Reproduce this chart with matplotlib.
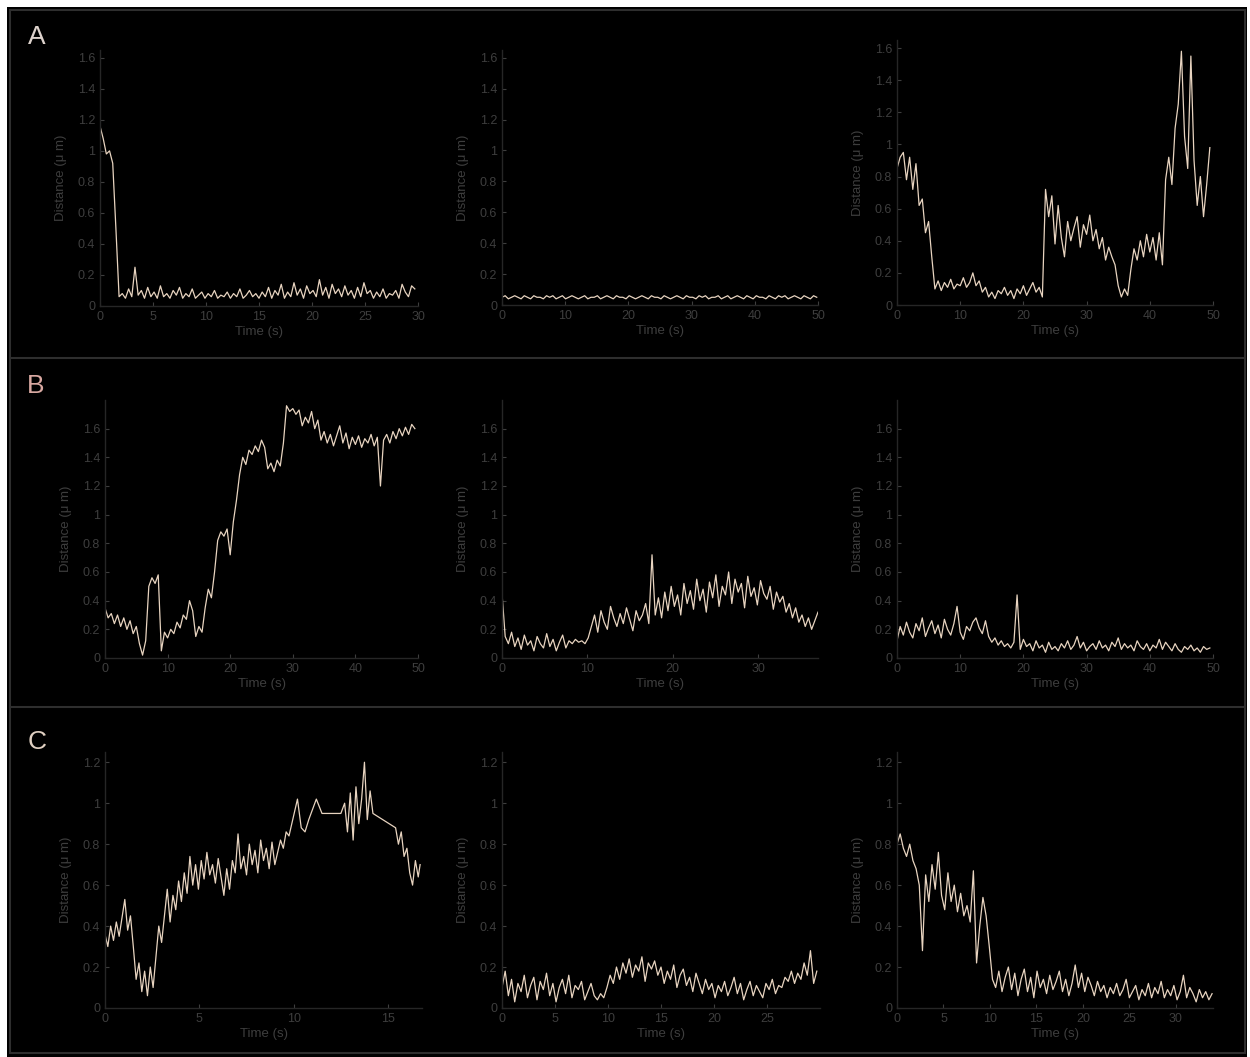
import numpy as np
import matplotlib
matplotlib.use('Agg')
import matplotlib.pyplot as plt
from matplotlib.patches import Rectangle
from matplotlib.lines import Line2D
from matplotlib.ticker import FormatStrFormatter

plt.rc('font', family=['Liberation Sans', 'DejaVu Sans'])

# ---- data (distance in um vs time in s) ----
a1 = [1.16,1.08,0.98,1.00,0.92,0.50,0.06,0.08,0.05,0.11,
      0.06,0.25,0.07,0.10,0.05,0.12,0.06,0.09,0.05,0.13,
      0.06,0.08,0.05,0.10,0.07,0.12,0.05,0.08,0.06,0.11,
      0.05,0.07,0.09,0.05,0.08,0.06,0.10,0.05,0.07,0.06,
      0.09,0.05,0.08,0.06,0.11,0.05,0.07,0.10,0.06,0.08,
      0.05,0.09,0.06,0.12,0.05,0.10,0.07,0.14,0.05,0.09,
      0.06,0.15,0.07,0.11,0.05,0.13,0.08,0.10,0.06,0.17,
      0.07,0.12,0.05,0.14,0.08,0.11,0.06,0.13,0.07,0.10,
      0.05,0.12,0.06,0.15,0.08,0.10,0.05,0.09,0.06,0.11,
      0.05,0.08,0.07,0.10,0.05,0.14,0.09,0.06,0.13,0.11]
a1_end = 29.7

a2 = [0.05,0.06,0.04,0.05,0.06,0.05,0.04,0.06,0.05,0.04,
      0.06,0.05,0.05,0.04,0.06,0.05,0.06,0.04,0.05,0.06,
      0.04,0.05,0.06,0.05,0.04,0.05,0.06,0.04,0.05,0.05,
      0.06,0.04,0.05,0.06,0.05,0.04,0.06,0.05,0.05,0.04,
      0.06,0.05,0.04,0.05,0.06,0.05,0.04,0.06,0.05,0.05,
      0.04,0.06,0.05,0.04,0.05,0.06,0.05,0.04,0.06,0.05,
      0.05,0.04,0.06,0.05,0.06,0.04,0.05,0.05,0.06,0.04,
      0.05,0.06,0.04,0.05,0.06,0.05,0.04,0.06,0.05,0.04,
      0.06,0.05,0.05,0.04,0.06,0.05,0.04,0.06,0.05,0.06,
      0.04,0.05,0.06,0.05,0.04,0.06,0.05,0.04,0.06,0.05]
a2_end = 49.8

a3 = [0.85,0.92,0.95,0.78,0.92,0.72,0.88,0.62,0.66,0.45,
      0.52,0.30,0.10,0.15,0.09,0.14,0.11,0.16,0.10,0.13,
      0.12,0.17,0.11,0.14,0.20,0.12,0.15,0.08,0.11,0.05,
      0.08,0.04,0.09,0.07,0.11,0.06,0.09,0.04,0.10,0.07,
      0.12,0.06,0.10,0.14,0.08,0.11,0.05,0.72,0.55,0.68,
      0.38,0.62,0.42,0.30,0.52,0.40,0.48,0.55,0.36,0.50,
      0.44,0.56,0.40,0.47,0.35,0.42,0.28,0.36,0.30,0.25,
      0.12,0.05,0.10,0.06,0.22,0.35,0.28,0.40,0.30,0.44,
      0.33,0.42,0.28,0.45,0.25,0.78,0.92,0.75,1.10,1.25,
      1.58,1.05,0.85,1.55,0.90,0.62,0.80,0.55,0.75,0.98]
a3_end = 49.5

b1 = [0.35,0.28,0.31,0.24,0.30,0.22,0.28,0.20,0.26,0.17,
      0.22,0.10,0.02,0.12,0.50,0.56,0.52,0.58,0.05,0.18,
      0.14,0.20,0.17,0.25,0.21,0.30,0.27,0.40,0.33,0.15,
      0.22,0.18,0.35,0.48,0.42,0.60,0.82,0.88,0.85,0.90,
      0.72,0.95,1.10,1.28,1.40,1.35,1.45,1.42,1.48,1.44,
      1.52,1.47,1.32,1.36,1.30,1.38,1.34,1.50,1.76,1.72,
      1.74,1.70,1.73,1.62,1.68,1.64,1.72,1.60,1.66,1.52,
      1.58,1.50,1.56,1.48,1.55,1.62,1.50,1.57,1.46,1.54,
      1.49,1.55,1.47,1.53,1.50,1.56,1.48,1.54,1.20,1.52,
      1.56,1.50,1.58,1.53,1.60,1.55,1.61,1.56,1.63,1.60]
b1_end = 49.5

b2 = [0.45,0.15,0.10,0.18,0.08,0.14,0.06,0.16,0.09,0.12,
      0.05,0.15,0.10,0.07,0.17,0.08,0.13,0.05,0.11,0.16,
      0.07,0.12,0.10,0.13,0.11,0.12,0.10,0.14,0.22,0.30,
      0.18,0.33,0.25,0.20,0.36,0.28,0.22,0.31,0.24,0.35,
      0.27,0.19,0.33,0.26,0.30,0.38,0.24,0.72,0.30,0.42,
      0.28,0.46,0.33,0.50,0.36,0.44,0.30,0.52,0.38,0.47,
      0.34,0.55,0.40,0.48,0.32,0.53,0.42,0.58,0.36,0.50,
      0.44,0.60,0.38,0.55,0.46,0.52,0.35,0.57,0.43,0.49,
      0.37,0.54,0.45,0.41,0.50,0.34,0.46,0.39,0.43,0.32,
      0.38,0.28,0.35,0.25,0.30,0.22,0.28,0.20,0.26,0.32]
b2_end = 37.0

b3 = [0.12,0.22,0.16,0.25,0.18,0.14,0.24,0.19,0.28,0.15,
      0.21,0.26,0.17,0.23,0.14,0.27,0.20,0.16,0.24,0.36,
      0.18,0.13,0.22,0.19,0.25,0.28,0.21,0.17,0.26,0.15,
      0.11,0.14,0.09,0.12,0.08,0.10,0.07,0.11,0.44,0.06,
      0.13,0.08,0.10,0.05,0.12,0.07,0.09,0.04,0.11,0.06,
      0.08,0.05,0.10,0.07,0.12,0.06,0.09,0.15,0.07,0.11,
      0.05,0.08,0.10,0.06,0.12,0.07,0.09,0.05,0.11,0.08,
      0.14,0.06,0.10,0.07,0.09,0.05,0.12,0.08,0.06,0.10,
      0.05,0.09,0.07,0.13,0.06,0.11,0.08,0.05,0.10,0.06,
      0.04,0.08,0.06,0.09,0.05,0.07,0.04,0.08,0.06,0.07]
b3_end = 49.5

c1_t = [0.0,0.15,0.3,0.45,0.6,0.75,0.9,1.05,1.2,1.35,1.5,1.65,1.8,1.95,2.1,2.25,2.4,2.55,2.7,2.85,
        3.0,3.15,3.3,3.45,3.6,3.75,3.9,4.05,4.2,4.35,4.5,4.65,4.8,4.95,5.1,5.25,5.4,5.55,5.7,5.85,
        6.0,6.15,6.3,6.45,6.6,6.75,6.9,7.05,7.2,7.35,7.5,7.65,7.8,7.95,8.1,8.25,8.4,8.55,8.7,8.85,
        9.0,9.15,9.3,9.45,9.6,9.75,9.9,10.05,10.2,10.4,10.6,10.8,11.0,11.2,11.5,12.5,12.7,12.85,13.0,13.15,
        13.3,13.45,13.6,13.75,13.9,14.05,14.2,15.4,15.55,15.7,15.85,16.0,16.15,16.3,16.45,16.6,16.7]
c1 = [0.36,0.30,0.40,0.33,0.42,0.35,0.44,0.53,0.38,0.45,0.30,0.14,0.22,0.08,0.18,0.06,0.20,0.10,0.25,0.40,
      0.32,0.45,0.58,0.42,0.55,0.48,0.62,0.52,0.66,0.56,0.74,0.60,0.70,0.58,0.72,0.63,0.76,0.65,0.70,0.61,
      0.73,0.64,0.55,0.68,0.58,0.72,0.66,0.85,0.68,0.74,0.65,0.80,0.70,0.77,0.66,0.82,0.72,0.78,0.68,0.81,
      0.70,0.76,0.82,0.78,0.86,0.84,0.90,0.96,1.02,0.88,0.86,0.92,0.97,1.02,0.95,0.95,1.00,0.86,1.05,0.82,
      1.08,0.90,1.02,1.20,0.92,1.06,0.95,0.88,0.80,0.86,0.74,0.78,0.66,0.60,0.72,0.64,0.70]

c2 = [0.10,0.18,0.06,0.14,0.03,0.12,0.08,0.16,0.05,0.11,
      0.15,0.04,0.13,0.09,0.17,0.06,0.12,0.03,0.10,0.14,
      0.07,0.16,0.05,0.11,0.09,0.13,0.04,0.08,0.12,0.06,
      0.04,0.07,0.05,0.10,0.16,0.12,0.20,0.14,0.22,0.17,
      0.24,0.15,0.21,0.18,0.25,0.13,0.22,0.19,0.23,0.16,
      0.20,0.12,0.18,0.14,0.21,0.10,0.16,0.19,0.11,0.15,
      0.08,0.17,0.12,0.07,0.14,0.09,0.12,0.05,0.11,0.08,
      0.13,0.06,0.10,0.15,0.07,0.12,0.04,0.09,0.13,0.06,
      0.11,0.08,0.05,0.12,0.09,0.14,0.07,0.11,0.10,0.15,
      0.13,0.18,0.12,0.17,0.14,0.22,0.16,0.28,0.12,0.18]
c2_end = 29.7

c3 = [0.80,0.85,0.78,0.74,0.80,0.72,0.68,0.60,0.28,0.65,
      0.52,0.70,0.58,0.76,0.55,0.48,0.66,0.52,0.60,0.47,
      0.56,0.45,0.50,0.42,0.67,0.22,0.40,0.54,0.45,0.30,
      0.14,0.10,0.18,0.08,0.15,0.20,0.09,0.17,0.06,0.14,
      0.19,0.08,0.15,0.05,0.18,0.10,0.14,0.07,0.16,0.09,
      0.13,0.18,0.08,0.14,0.06,0.12,0.21,0.10,0.17,0.08,
      0.15,0.11,0.06,0.13,0.08,0.11,0.05,0.10,0.07,0.12,
      0.06,0.09,0.14,0.05,0.08,0.11,0.04,0.09,0.06,0.12,
      0.05,0.10,0.07,0.13,0.05,0.09,0.06,0.11,0.04,0.08,
      0.16,0.05,0.10,0.07,0.03,0.09,0.05,0.08,0.04,0.07]
c3_end = 33.9

# ---- layout ----
W, H = 1250, 1057
fig = plt.figure(figsize=(W / 100, H / 100), dpi=100, facecolor='white')

BG = '#000000'
FRAME = '#2e2e2e'
DIM = '#3e3e3e'
TRACE = '#e8d4c0'

fig.patches.append(Rectangle((7 / W, 0), 1240 / W, 1050 / H, transform=fig.transFigure,
                             facecolor=BG, edgecolor='none', zorder=-10))
fig.patches.append(Rectangle((10 / W, 4 / H), 1235 / W, 1043 / H, transform=fig.transFigure,
                             facecolor='none', edgecolor=FRAME, lw=1.5, zorder=-5))
for ysep in (358, 707):
    fig.add_artist(Line2D([10 / W, 1245 / W], [1 - ysep / H, 1 - ysep / H], color=FRAME, lw=1.5))


def make_axes(left, right, zero, top):
    return fig.add_axes([left / W, 1 - zero / H, (right - left) / W, (zero - top) / H])


def style(ax, xlim, xticks, ylim, yticks):
    ax.set_facecolor(BG)
    ax.set_xlim(*xlim)
    ax.set_ylim(*ylim)
    ax.set_xticks(xticks)
    ax.set_yticks(yticks)
    ax.yaxis.set_major_formatter(FormatStrFormatter('%g'))
    for s in ('top', 'right'):
        ax.spines[s].set_visible(False)
    for s in ('left', 'bottom'):
        ax.spines[s].set_color('#262626')
        ax.spines[s].set_linewidth(1.0)
    ax.tick_params(colors=DIM, labelsize=9, length=3, direction='in', labelcolor=DIM)
    ax.set_xlabel('Time (s)', color=DIM, fontsize=9.5, labelpad=2)
    ax.set_ylabel('Distance (\u03bc m)', color=DIM, fontsize=9.5, labelpad=8)


yA = np.arange(0, 1.61, 0.2)
yC = np.arange(0, 1.21, 0.2)

panels = [
    # (values, times, rect, xlim, xticks, ylim, yticks)
    (a1, np.linspace(0, a1_end, len(a1)), (100, 418, 306, 50), (0, 30), np.arange(0, 31, 5), (0, 1.65), yA),
    (a2, np.linspace(0, a2_end, len(a2)), (502, 818, 305, 50), (0, 50), np.arange(0, 51, 10), (0, 1.65), yA),
    (a3, np.linspace(0, a3_end, len(a3)), (897, 1213, 305, 40), (0, 50), np.arange(0, 51, 10), (0, 1.65), yA),
    (b1, np.linspace(0, b1_end, len(b1)), (105, 418, 658, 400), (0, 50), np.arange(0, 51, 10), (0, 1.8), yA),
    (b2, np.linspace(0, b2_end, len(b2)), (502, 818, 658, 400), (0, 37), np.arange(0, 31, 10), (0, 1.8), yA),
    (b3, np.linspace(0, b3_end, len(b3)), (897, 1213, 658, 400), (0, 50), np.arange(0, 51, 10), (0, 1.8), yA),
    (c1, np.array(c1_t), (105, 422, 1008, 752), (0, 16.8), np.arange(0, 16, 5), (0, 1.25), yC),
    (c2, np.linspace(0, c2_end, len(c2)), (502, 820, 1008, 752), (0, 30), np.arange(0, 26, 5), (0, 1.25), yC),
    (c3, np.linspace(0, c3_end, len(c3)), (897, 1213, 1008, 752), (0, 34), np.arange(0, 31, 5), (0, 1.25), yC),
]

for vals, t, rect, xlim, xt, ylim, yt in panels:
    ax = make_axes(*rect)
    style(ax, xlim, xt, ylim, yt)
    ax.plot(t, vals, color=TRACE, lw=0.9)

# row letters
for letter, (x, y), col in [('A', (37, 37), '#ddd2cc'), ('B', (36, 386), '#d9a9a2'), ('C', (37, 742), '#e0d0c2')]:
    fig.text(x / W, 1 - y / H, letter, color=col, fontsize=19, ha='center', va='center')

fig.savefig('out.png', dpi=100, facecolor=fig.get_facecolor())
